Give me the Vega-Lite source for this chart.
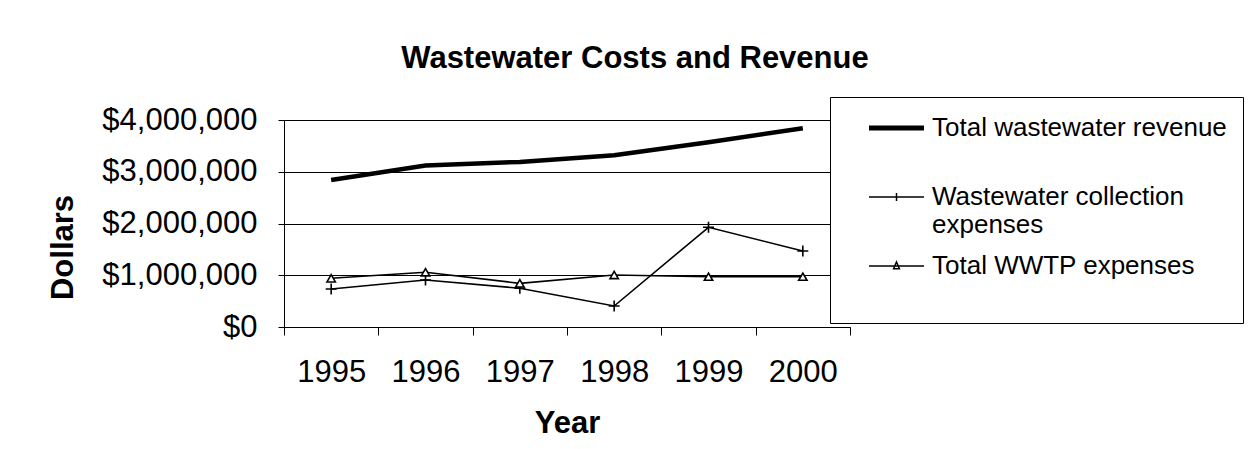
{
  "$schema": "https://vega.github.io/schema/vega-lite/v6.json",
  "width": 566,
  "height": 207,
  "autosize": {"type": "none"},
  "padding": {"left": 284, "top": 120, "right": 402, "bottom": 122},
  "background": "white",
  "title": {
    "text": "Wastewater Costs and Revenue",
    "font": "Liberation Sans",
    "fontSize": 31,
    "fontWeight": "bold",
    "color": "black",
    "anchor": "middle",
    "frame": "group",
    "dx": 68,
    "offset": -2,
    "baseline": "alphabetic"
  },
  "data": {
    "values": [
      {"year": 1995, "series": "Total wastewater revenue", "value": 2840000},
      {"year": 1996, "series": "Total wastewater revenue", "value": 3120000},
      {"year": 1997, "series": "Total wastewater revenue", "value": 3190000},
      {"year": 1998, "series": "Total wastewater revenue", "value": 3320000},
      {"year": 1999, "series": "Total wastewater revenue", "value": 3570000},
      {"year": 2000, "series": "Total wastewater revenue", "value": 3840000},
      {"year": 1995, "series": "Wastewater collection expenses", "value": 734000},
      {"year": 1996, "series": "Wastewater collection expenses", "value": 908000},
      {"year": 1997, "series": "Wastewater collection expenses", "value": 748000},
      {"year": 1998, "series": "Wastewater collection expenses", "value": 406000},
      {"year": 1999, "series": "Wastewater collection expenses", "value": 1927000},
      {"year": 2000, "series": "Wastewater collection expenses", "value": 1469000},
      {"year": 1995, "series": "Total WWTP expenses", "value": 941000},
      {"year": 1996, "series": "Total WWTP expenses", "value": 1057000},
      {"year": 1997, "series": "Total WWTP expenses", "value": 844000},
      {"year": 1998, "series": "Total WWTP expenses", "value": 1005000},
      {"year": 1999, "series": "Total WWTP expenses", "value": 972000},
      {"year": 2000, "series": "Total WWTP expenses", "value": 972000}
    ]
  },
  "encoding": {
    "x": {
      "field": "year",
      "type": "ordinal",
      "bandPosition": 0.5,
      "scale": {"type": "band", "paddingInner": 0, "paddingOuter": 0},
      "axis": {
        "title": "Year",
        "titleFont": "Liberation Sans",
        "titleFontSize": 31,
        "titleFontWeight": "bold",
        "titleColor": "black",
        "titleY": 105,
        "titleBaseline": "alphabetic",
        "labelAngle": 0,
        "labelFont": "Liberation Sans",
        "labelFontSize": 31,
        "labelColor": "black",
        "labelPadding": 22,
        "tickSize": 8,
        "tickBand": "extent",
        "tickColor": "black",
        "domainColor": "black",
        "grid": false
      }
    },
    "y": {
      "field": "value",
      "type": "quantitative",
      "scale": {"domain": [0, 4000000]},
      "axis": {
        "title": "Dollars",
        "titleFont": "Liberation Sans",
        "titleFontSize": 31,
        "titleFontWeight": "bold",
        "titleColor": "black",
        "titleX": -212,
        "titleY": 127,
        "titleAngle": -90,
        "titleAlign": "center",
        "titleBaseline": "alphabetic",
        "format": "$,.0f",
        "values": [0, 1000000, 2000000, 3000000, 4000000],
        "labelFont": "Liberation Sans",
        "labelFontSize": 31,
        "labelColor": "black",
        "labelPadding": 21,
        "tickSize": 6,
        "tickColor": "black",
        "domainColor": "black",
        "grid": true,
        "gridColor": "black",
        "gridWidth": 1
      }
    }
  },
  "layer": [
    {
      "transform": [{"filter": "datum.series == 'Total wastewater revenue'"}],
      "mark": {"type": "line", "color": "black", "strokeWidth": 4.5},
      "encoding": {}
    },
    {
      "transform": [{"filter": "datum.series != 'Total wastewater revenue'"}],
      "mark": {"type": "line", "color": "black", "strokeWidth": 1.6},
      "encoding": {"detail": {"field": "series"}}
    },
    {
      "transform": [{"filter": "datum.series == 'Wastewater collection expenses'"}],
      "mark": {"type": "point", "shape": "M-1,0H1M0,-1V1", "size": 121, "color": "black", "strokeWidth": 1.6, "filled": false, "opacity": 1}
    },
    {
      "transform": [{"filter": "datum.series == 'Total WWTP expenses'"}],
      "mark": {"type": "point", "shape": "triangle-up", "size": 70, "filled": true, "fill": "white", "stroke": "black", "strokeWidth": 1.6, "opacity": 1}
    },
    {
      "mark": {"type": "point", "color": "black", "opacity": 0},
      "encoding": {
        "shape": {
          "field": "series",
          "type": "nominal",
          "scale": {
            "domain": ["Total wastewater revenue", "Wastewater collection expenses", "Total WWTP expenses"],
            "range": [
              "M-1.964,-0.118H1.964M-1.964,-0.039H1.964M-1.964,0.039H1.964M-1.964,0.118H1.964",
              "M-1.964,0H1.964M0,-0.29V0.29",
              "M-1.964,0H1.964M-0.21,0.2L0,-0.29L0.21,0.2Z"
            ]
          },
          "legend": {
            "orient": "none",
            "legendX": 546,
            "legendY": -23,
            "title": null,
            "padding": 16,
            "strokeColor": "black",
            "fillColor": "white",
            "symbolSize": 784,
            "symbolOffset": 35.5,
            "symbolStrokeColor": "black",
            "symbolFillColor": "transparent",
            "symbolStrokeWidth": 1.5,
            "symbolOpacity": 1,
            "labelFont": "Liberation Sans",
            "labelFontSize": 26,
            "labelColor": "black",
            "labelLimit": 500,
            "labelOffset": 20.5,
            "rowPadding": 13,
            "labelExpr": "datum.label == 'Wastewater collection expenses' ? ['Wastewater collection', 'expenses'] : [datum.label, '']",
            "encode": {
              "symbols": {
                "y": {"value": 0}
              }
            }
          }
        }
      }
    }
  ],
  "config": {
    "view": {"stroke": null}
  }
}
